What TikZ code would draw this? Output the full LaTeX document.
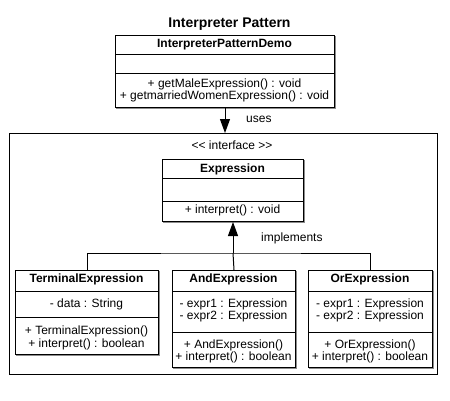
\documentclass[tikz,border=0pt]{standalone}
\usepackage{fontspec}
\setmainfont{Liberation Sans}
\usetikzlibrary{arrows.meta}
\tikzset{
  cls/.style={draw=black, line width=1pt, fill=white, inner sep=0pt,
    preaction={draw=black!45, line width=1pt, transform canvas={shift={(1pt,-1pt)}}}},
  txt/.style={inner sep=0pt, font=\fontsize{12}{12.6}\selectfont, align=center},
  hdr/.style={inner sep=0pt, font=\fontsize{12}{12.6}\selectfont\bfseries},
  conn/.style={line width=1pt, black},
  tri/.style={-{Triangle[width=10pt,length=14pt]}},
}
\begin{document}
\begin{tikzpicture}[x=1pt,y=-1pt]
\useasboundingbox (0,0) rectangle (450,400);
% title
\node[inner sep=0pt, font=\fontsize{14}{16}\selectfont\bfseries] (title) at (229.5,24.5) {Interpreter Pattern};
% demo class
\node[cls, minimum width=219pt, minimum height=72pt, anchor=north west] (demo) at (115,35) {};
\draw[conn] (115,54) -- (334,54) (115,73) -- (334,73);
\node[hdr] (demoname) at (224.5,44.5) {InterpreterPatternDemo};
\node[txt] (demoops) at (224.5,90.5) {+ getMaleExpression() : void\\+ getmarriedWomenExpression() : void};
% frame
\node[draw=black, line width=1pt, minimum width=428pt, minimum height=241pt, anchor=north west, inner sep=0pt] (frame) at (9,133) {};
\node[txt] (iface) at (232,145) {{<}{<} interface {>}{>}};
% expression
\node[cls, minimum width=141pt, minimum height=62pt, anchor=north west] (expr) at (162,159) {};
\draw[conn] (162,178) -- (303,178) (162,201) -- (303,201);
\node[hdr] (exprname) at (232.5,169) {Expression};
\node[txt] (exprops) at (232.5,210.5) {+ interpret() : void};
% terminal
\node[cls, minimum width=143pt, minimum height=84pt, anchor=north west] (term) at (15,270) {};
\draw[conn] (15,291) -- (158,291) (15,317) -- (158,317);
\node[hdr] (termname) at (86.5,279.5) {TerminalExpression};
\node[txt] (termattr) at (86.5,304) {- data : String};
\node[txt] (termops) at (86.5,338) {+ TerminalExpression()\\+ interpret() : boolean};
% and
\node[cls, minimum width=123pt, minimum height=97pt, anchor=north west] (andc) at (172,270) {};
\draw[conn] (172,291) -- (295,291) (172,332) -- (295,332);
\node[hdr] (andname) at (233.5,279.5) {AndExpression};
\node[txt] (andattr) at (233.5,310.5) {- expr1 : Expression\\- expr2 : Expression};
\node[txt] (andops) at (233.5,351.5) {+ AndExpression()\\+ interpret() : boolean};
% or
\node[cls, minimum width=124pt, minimum height=97pt, anchor=north west] (orc) at (308,270) {};
\draw[conn] (308,291) -- (432,291) (308,332) -- (432,332);
\node[hdr] (orname) at (370,279.5) {OrExpression};
\node[txt] (orattr) at (370,310.5) {- expr1 : Expression\\- expr2 : Expression};
\node[txt] (orops) at (370,351.5) {+ OrExpression()\\+ interpret() : boolean};
% connectors
\coordinate (junc) at (233,253);
\draw[conn] (term.north) |- (junc) -| (orc.north);
\draw[conn] (andc.north) -- (junc);
\draw[conn, tri] (junc) -- (expr.south -| junc);
\node[txt, anchor=west] (impl) at (261,238) {implements};
\draw[conn, tri] (demo.south -| 225,0) -- (frame.north -| 225,0);
\node[txt, anchor=west] (uses) at (246,119) {uses};
\end{tikzpicture}
\end{document}
